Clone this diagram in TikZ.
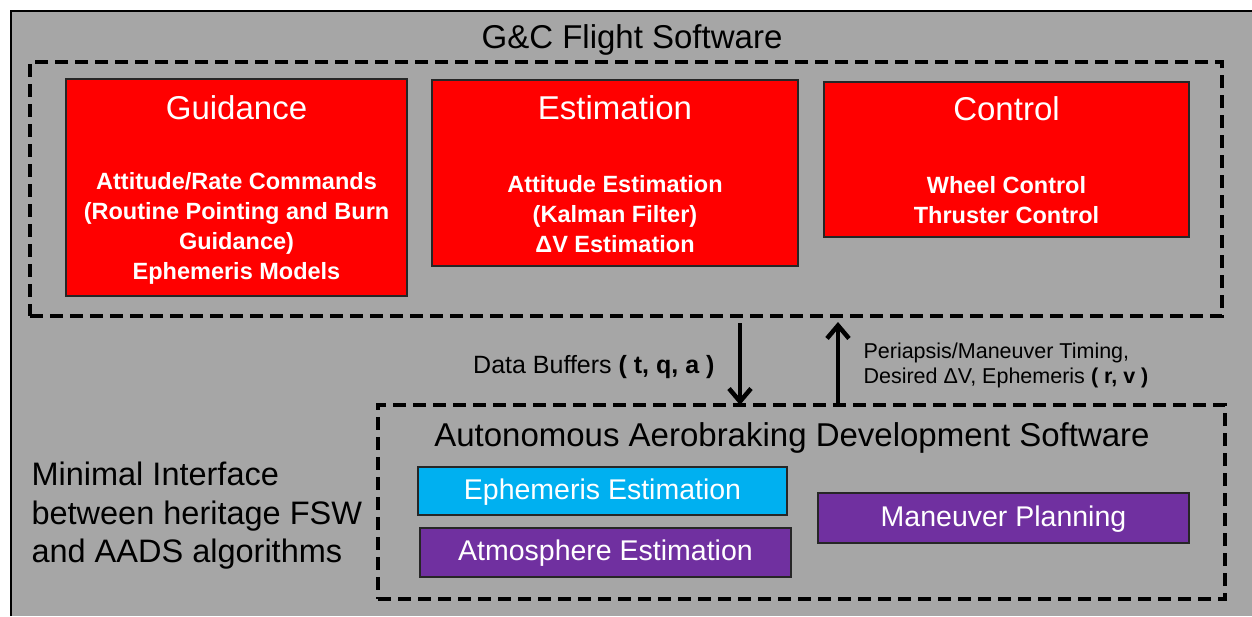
\documentclass[tikz,border=0pt]{standalone}
\usepackage{fontspec}
\setmainfont{Liberation Sans}
\usetikzlibrary{arrows.meta,positioning}
\definecolor{bggray}{RGB}{166,166,166}
\definecolor{gncred}{RGB}{255,0,0}
\definecolor{ephblue}{RGB}{0,176,240}
\definecolor{aadpurple}{RGB}{112,48,160}

\begin{document}
\begin{tikzpicture}[x=1pt,y=-1pt,>={Straight Barb[length=13pt,width=22pt]},
  box/.style={draw=black!85,line width=1.3pt,anchor=north west,inner sep=0pt,outer sep=0pt},
  dashbox/.style={draw,line width=4.5pt,dash pattern=on 13pt off 7pt,anchor=north west,inner sep=0pt,outer sep=0pt},
  head/.style={font=\fontsize{33}{39}\selectfont},
  sub/.style={font=\fontsize{23.5}{30}\selectfont\bfseries,text=white,align=center},
  alg/.style={font=\fontsize{28.5}{34}\selectfont,text=white}]
\useasboundingbox (0,0) rectangle (1252,616);
\fill[bggray] (11,11) rectangle (1252,616);
\draw[line width=1.5pt] (11,616) -- (11,11) -- (1252,11);

% flight software
\node[dashbox,minimum width=1192pt,minimum height=254pt] (fsw) at (30,62) {};
\node[head] (fswT) at (632,40) {G\&C Flight Software};
\node[box,fill=gncred,minimum width=341pt,minimum height=217pt] (guid) at (66,79) {};
\node[box,fill=gncred,minimum width=366pt,minimum height=186pt] (est) at (432,80) {};
\node[box,fill=gncred,minimum width=365pt,minimum height=155pt] (ctrl) at (824,82) {};
\node[head,text=white] (guidT) at (236.5,108) {Guidance};
\node[head,text=white] (estT) at (615,108) {Estimation};
\node[head,text=white] (ctrlT) at (1006.5,109) {Control};
\node[sub] (guidS) at (236.5,228) {Attitude/Rate Commands\\(Routine Pointing and Burn\\Guidance)\\Ephemeris Models};
\node[sub] (estS) at (615,214) {Attitude Estimation\\(Kalman Filter)\\ΔV Estimation};
\node[sub] (ctrlS) at (1006.5,200) {Wheel Control\\Thruster Control};

% aerobraking software
\node[dashbox,minimum width=847pt,minimum height=194pt] (aads) at (378,405) {};
\node[head] (aadsT) at (792,438) {Autonomous Aerobraking Development Software};
\node[box,fill=ephblue,minimum width=369pt,minimum height=48pt] (eph) at (418,467) {};
\node[box,fill=aadpurple,minimum width=371pt,minimum height=49pt] (atm) at (420,528) {};
\node[box,fill=aadpurple,minimum width=371pt,minimum height=50pt] (man) at (818,493) {};
\node[alg] at ([yshift=-1pt]eph.center) {Ephemeris Estimation};
\node[alg] at ([yshift=-1pt]atm.center) {Atmosphere Estimation};
\node[alg] at ([yshift=-1pt]man.center) {Maneuver Planning};

\node[head,align=left,anchor=west,font=\fontsize{32.5}{38.5}\selectfont] (note) at (28,516) {Minimal Interface\\between heritage FSW\\and AADS algorithms};

% interface
\coordinate (dn) at (740,0);
\coordinate (up) at (838,0);
\draw[->,line width=4.5pt,shorten <=7pt] (dn |- fsw.south) -- (dn |- aads.north);
\draw[->,line width=4.5pt,shorten >=6pt] (up |- aads.north) -- (up |- fsw.south);
\node[anchor=east,font=\fontsize{25}{30}\selectfont] (buf) at (718,367) {Data Buffers \textbf{( t, q, a )}};
\node[anchor=west,align=left,font=\fontsize{21.5}{25}\selectfont] (tim) at (860,365) {Periapsis/Maneuver Timing,\\Desired ΔV, Ephemeris \textbf{( r, v )}};
\end{tikzpicture}
\end{document}
